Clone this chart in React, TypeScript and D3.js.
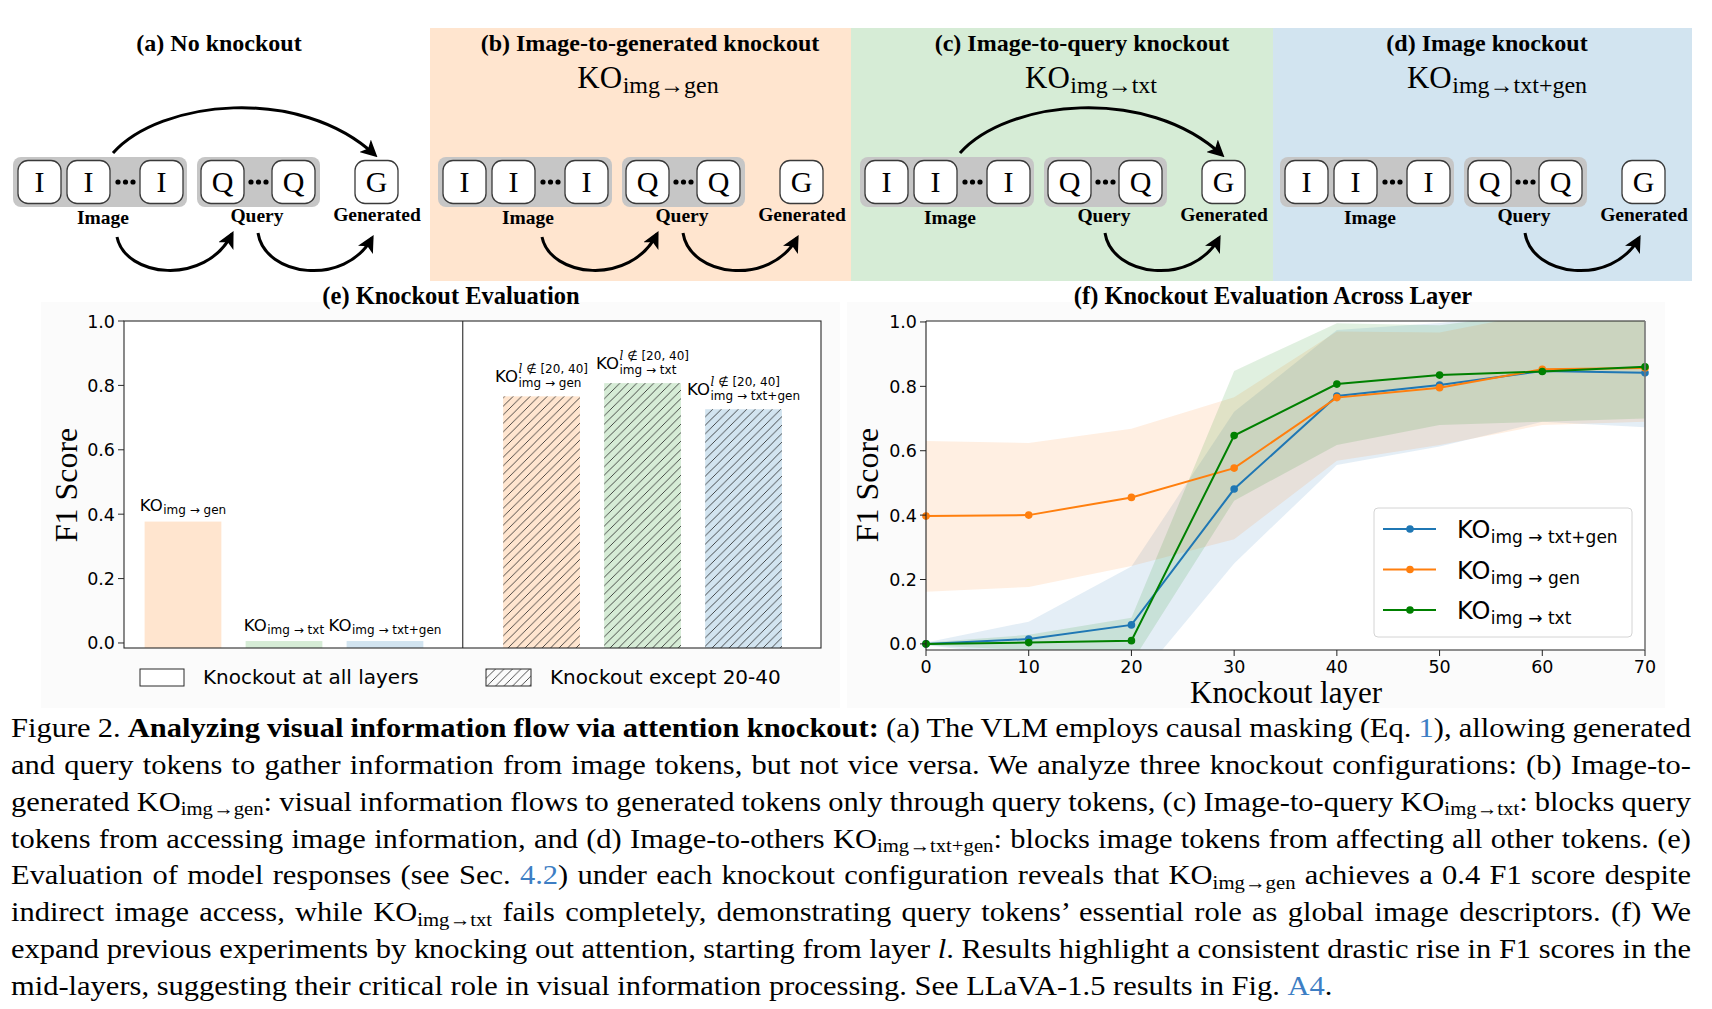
import React, { useEffect, useRef } from 'react';
import * as d3 from 'd3';

const W = 1712;
const H = 1009;
const SERIF = '"Liberation Serif", "Times New Roman", serif';
const SANS = '"DejaVu Sans", sans-serif';
const LINK = '#3d7ec4';

// ---------- top diagrams ----------
const panelTitles = ['(a) No knockout', '(b) Image-to-generated knockout', '(c) Image-to-query knockout', '(d) Image knockout'];
const panelKO = ['', 'img→gen', 'img→txt', 'img→txt+gen'];
const panelFlows = [
  { top: true, imgToQuery: true, queryToGen: true },
  { top: false, imgToQuery: true, queryToGen: true },
  { top: true, imgToQuery: false, queryToGen: true },
  { top: false, imgToQuery: false, queryToGen: true },
];
const tokenLabels = ['Image', 'Query', 'Generated'];
const panelFills = [null, '#ffe5cf', '#d6ecd6', '#d2e4f0'];

// ---------- (e) bar chart ----------
const eCategories = ['img → gen', 'img → txt', 'img → txt+gen'];
const eAllLayers = [0.377, 0.006, 0.006];
const eExcept2040 = [0.766, 0.807, 0.726];
const eSup = '∉ [20, 40]';
const eYTicks = [0, 0.2, 0.4, 0.6, 0.8, 1.0];
const eLegend = ['Knockout at all layers', 'Knockout except 20-40'];
const eFills = ['#ffe5cf', '#d6ecd6', '#d2e4f0'];

// ---------- (f) line chart ----------
const fLayers = [0, 10, 20, 30, 40, 50, 60, 70];
const fNames = ['img → txt+gen', 'img → gen', 'img → txt'];
const fMeanTxtGen = [0.0, 0.015, 0.059, 0.481, 0.770, 0.804, 0.848, 0.842];
const fMeanGen = [0.397, 0.400, 0.455, 0.546, 0.765, 0.796, 0.853, 0.857];
const fMeanTxt = [0.0, 0.004, 0.010, 0.647, 0.807, 0.835, 0.846, 0.861];
const fLowTxtGen = [-0.004, -0.04, -0.134, 0.25, 0.556, 0.613, 0.69, 0.673];
const fHighTxtGen = [0.004, 0.069, 0.24, 0.721, 0.975, 0.997, 1.03, 1.03];
const fLowGen = [0.162, 0.177, 0.242, 0.325, 0.569, 0.618, 0.68, 0.69];
const fHighGen = [0.63, 0.624, 0.668, 0.766, 0.97, 0.967, 1.03, 1.03];
const fLowTxt = [-0.004, -0.02, -0.059, 0.445, 0.618, 0.68, 0.69, 0.70];
const fHighTxt = [0.004, 0.028, 0.081, 0.848, 0.996, 0.99, 1.03, 1.03];
const fColors = ['#1f77b4', '#ff7f0e', '#008000'];
const fXTicks = [0, 10, 20, 30, 40, 50, 60, 70];
const fYTicks = [0, 0.2, 0.4, 0.6, 0.8, 1.0];

// ---------- caption ----------
type Seg = { t: string; b?: boolean; i?: boolean; sub?: boolean; link?: boolean };
const captionLines: Seg[][] = [
  [{ t: 'Figure 2. ' }, { t: 'Analyzing visual information flow via attention knockout:', b: true }, { t: ' (a) The VLM employs causal masking (Eq. ' }, { t: '1', link: true }, { t: '), allowing generated' }],
  [{ t: 'and query tokens to gather information from image tokens, but not vice versa. We analyze three knockout configurations: (b) Image-to-' }],
  [{ t: 'generated KO' }, { t: 'img→gen', sub: true }, { t: ': visual information flows to generated tokens only through query tokens, (c) Image-to-query KO' }, { t: 'img→txt', sub: true }, { t: ': blocks query' }],
  [{ t: 'tokens from accessing image information, and (d) Image-to-others KO' }, { t: 'img→txt+gen', sub: true }, { t: ': blocks image tokens from affecting all other tokens. (e)' }],
  [{ t: 'Evaluation of model responses (see Sec. ' }, { t: '4.2', link: true }, { t: ') under each knockout configuration reveals that KO' }, { t: 'img→gen', sub: true }, { t: ' achieves a 0.4 F1 score despite' }],
  [{ t: 'indirect image access, while KO' }, { t: 'img→txt', sub: true }, { t: ' fails completely, demonstrating query tokens’ essential role as global image descriptors. (f) We' }],
  [{ t: 'expand previous experiments by knocking out attention, starting from layer ' }, { t: 'l', i: true }, { t: '. Results highlight a consistent drastic rise in F1 scores in the' }],
  [{ t: 'mid-layers, suggesting their critical role in visual information processing. See LLaVA-1.5 results in Fig. ' }, { t: 'A4', link: true }, { t: '.' }],
];

type KOOpts = {
  font: string; size: number; subFont?: string; subSize: number; sub: string; subDy: number;
  sup?: string; supSize?: number; supDy?: number;
};

function drawKO(parent: any, x: number, y: number, anchor: 'middle' | 'start', o: KOOpts) {
  const g = parent.append('g');
  const k = g.append('text').attr('font-family', o.font).attr('font-size', o.size).attr('fill', '#000').text('KO');
  const kw = (k.node() as SVGTextElement).getComputedTextLength();
  const s = g.append('text').attr('x', kw + 0.5).attr('y', o.subDy)
    .attr('font-family', o.subFont || o.font).attr('font-size', o.subSize).attr('fill', '#000').text(o.sub);
  let w = (s.node() as SVGTextElement).getComputedTextLength();
  if (o.sup) {
    const p = g.append('text').attr('x', kw + 0.5).attr('y', o.supDy)
      .attr('font-family', o.subFont || o.font).attr('font-size', o.supSize).attr('fill', '#000');
    p.append('tspan').attr('font-family', '"DejaVu Serif", serif').attr('font-style', 'italic').text('l');
    p.append('tspan').text(' ' + o.sup);
    w = Math.max(w, (p.node() as SVGTextElement).getComputedTextLength());
  }
  const total = kw + 0.5 + w;
  const x0 = anchor === 'middle' ? x - total / 2 : x;
  g.attr('transform', `translate(${x0},${y})`);
}

function draw(node: SVGSVGElement) {
  const svg = d3.select(node);
  svg.selectAll('*').remove();
  svg.append('rect').attr('width', W).attr('height', H).attr('fill', '#fff');
  const defs = svg.append('defs');
  defs.append('marker').attr('id', 'ah').attr('viewBox', '0 0 10 10').attr('refX', 8).attr('refY', 5)
    .attr('markerWidth', 17).attr('markerHeight', 17).attr('markerUnits', 'userSpaceOnUse').attr('orient', 'auto')
    .append('path').attr('d', 'M0,0 L10,5 L0,10 L2.5,5 Z').attr('fill', '#000');
  const pat = defs.append('pattern').attr('id', 'hatch').attr('patternUnits', 'userSpaceOnUse')
    .attr('width', 8.5).attr('height', 8.5);
  pat.append('path').attr('d', 'M-1,1 L1,-1 M0,8.5 L8.5,0 M7.5,9.5 L9.5,7.5')
    .attr('stroke', '#222').attr('stroke-width', 0.8);
  defs.append('clipPath').attr('id', 'fclip').append('rect').attr('x', 926).attr('y', 321).attr('width', 719).attr('height', 329);

  // ---------------- top panels ----------------
  const bgX = [[0, 430], [430, 851], [851, 1273], [1273, 1692]];
  const offs = [0, 425, 847, 1267];
  const titleCx = [219, 650, 1082, 1487];
  const koCx = [0, 648, 1091, 1497];

  panelTitles.forEach((_, p) => {
    if (panelFills[p]) {
      svg.append('rect').attr('x', bgX[p][0]).attr('y', 28).attr('width', bgX[p][1] - bgX[p][0]).attr('height', 253)
        .attr('fill', panelFills[p] as string);
    }
  });

  panelTitles.forEach((title, p) => {
    const g = svg.append('g').attr('transform', `translate(${offs[p]},0)`);
    svg.append('text').attr('x', titleCx[p]).attr('y', 51).attr('text-anchor', 'middle')
      .attr('font-family', SERIF).attr('font-weight', 'bold').attr('font-size', 24).text(title);
    if (panelKO[p]) {
      drawKO(svg, koCx[p], 88, 'middle', {
        font: SERIF, size: 31, subSize: 24, sub: panelKO[p], subDy: 5,
      });
    }
    g.append('rect').attr('x', 13).attr('y', 157).attr('width', 174).attr('height', 50).attr('rx', 8).attr('fill', '#c6c6c6');
    g.append('rect').attr('x', 197).attr('y', 157).attr('width', 123).attr('height', 50).attr('rx', 8).attr('fill', '#c6c6c6');
    const toks = [
      { x: 18, l: 'I' }, { x: 67, l: 'I' }, { x: 140, l: 'I' },
      { x: 201, l: 'Q' }, { x: 272, l: 'Q' }, { x: 355, l: 'G' },
    ];
    toks.forEach(t => {
      g.append('rect').attr('x', t.x).attr('y', 160.5).attr('width', 43).attr('height', 43).attr('rx', 10)
        .attr('fill', '#fff').attr('stroke', '#3a3a3a').attr('stroke-width', 1.3);
      g.append('text').attr('x', t.x + 21.5).attr('y', 191.5).attr('text-anchor', 'middle')
        .attr('font-family', SERIF).attr('font-size', 30).text(t.l);
    });
    [[118, 125.5, 133], [251, 258.5, 266]].forEach(ds => ds.forEach(cx => {
      g.append('circle').attr('cx', cx).attr('cy', 182).attr('r', 2.6).attr('fill', '#000');
    }));
    const lblX = [103, 257, 377];
    const lblY = [224, 222, 221];
    tokenLabels.forEach((l, i) => {
      g.append('text').attr('x', lblX[i]).attr('y', lblY[i]).attr('text-anchor', 'middle')
        .attr('font-family', SERIF).attr('font-weight', 'bold').attr('font-size', 19.5).text(l);
    });
    const arc = (d: string) => g.append('path').attr('d', d).attr('fill', 'none').attr('stroke', '#000')
      .attr('stroke-width', 3).attr('marker-end', 'url(#ah)');
    const f = panelFlows[p];
    if (f.top) arc('M113,153 C160,100 300,85 375,155');
    if (f.imgToQuery) arc('M117,237 C125,277 205,287 232,234');
    if (f.queryToGen) arc('M258,233 C265,277 345,287 372,238');
  });

  // ---------------- (e) ----------------
  svg.append('rect').attr('x', 41).attr('y', 302).attr('width', 799).attr('height', 406).attr('fill', '#fbfbfb');
  svg.append('rect').attr('x', 847).attr('y', 302).attr('width', 818).attr('height', 406).attr('fill', '#fbfbfb');

  svg.append('text').attr('x', 451).attr('y', 304).attr('text-anchor', 'middle')
    .attr('font-family', SERIF).attr('font-weight', 'bold').attr('font-size', 24.5).text('(e) Knockout Evaluation');
  svg.append('text').attr('x', 1273).attr('y', 304).attr('text-anchor', 'middle')
    .attr('font-family', SERIF).attr('font-weight', 'bold').attr('font-size', 24.5).text('(f) Knockout Evaluation Across Layer');

  const eX = d3.scaleLinear().domain([-0.584, 6.317]).range([124, 821]);
  const eY = d3.scaleLinear().domain([-0.0156, 1.0]).range([648, 321]);
  svg.append('rect').attr('x', 124).attr('y', 321).attr('width', 697).attr('height', 327).attr('fill', '#fff');
  const allPos = [0, 1, 2];
  const exPos = [3.55, 4.55, 5.55];
  const bw = 0.76;
  const barW = eX(bw) - eX(0);
  eAllLayers.forEach((v, i) => {
    svg.append('rect').attr('x', eX(allPos[i]) - barW / 2).attr('y', eY(v)).attr('width', barW)
      .attr('height', eY(-0.0156) - eY(v)).attr('fill', eFills[i]);
  });
  eExcept2040.forEach((v, i) => {
    const x = eX(exPos[i]) - barW / 2;
    svg.append('rect').attr('x', x).attr('y', eY(v)).attr('width', barW)
      .attr('height', eY(-0.0156) - eY(v)).attr('fill', eFills[i]);
    svg.append('rect').attr('x', x).attr('y', eY(v)).attr('width', barW)
      .attr('height', eY(-0.0156) - eY(v)).attr('fill', 'url(#hatch)');
  });
  svg.append('rect').attr('x', 124).attr('y', 321).attr('width', 697).attr('height', 327)
    .attr('fill', 'none').attr('stroke', '#2a2a2a').attr('stroke-width', 1.1);
  svg.append('line').attr('x1', eX(2.77)).attr('x2', eX(2.77)).attr('y1', 321).attr('y2', 648)
    .attr('stroke', '#2a2a2a').attr('stroke-width', 1.1);
  eYTicks.forEach(t => {
    svg.append('line').attr('x1', 118).attr('x2', 124).attr('y1', eY(t)).attr('y2', eY(t)).attr('stroke', '#2a2a2a');
    svg.append('text').attr('x', 115).attr('y', eY(t) + 6.5).attr('text-anchor', 'end')
      .attr('font-family', SANS).attr('font-size', 17.5).text(t.toFixed(1));
  });
  svg.append('text').attr('transform', `translate(77,485) rotate(-90)`).attr('text-anchor', 'middle')
    .attr('font-family', SERIF).attr('font-size', 32).text('F1 Score');
  eCategories.forEach((c, i) => {
    drawKO(svg, eX(allPos[i]), eY(eAllLayers[i]) - 10.5, 'middle', {
      font: SANS, size: 16.5, subSize: 12, sub: c, subDy: 3,
    });
    drawKO(svg, eX(exPos[i]), eY(eExcept2040[i]) - 14.5, 'middle', {
      font: SANS, size: 16.5, subSize: 12, sub: c, subDy: 5, sup: eSup, supSize: 12, supDy: -8.5,
    });
  });
  svg.append('rect').attr('x', 140).attr('y', 669).attr('width', 44).attr('height', 17)
    .attr('fill', '#fff').attr('stroke', '#2a2a2a').attr('stroke-width', 1);
  svg.append('text').attr('x', 203).attr('y', 684).attr('font-family', SANS).attr('font-size', 20).text(eLegend[0]);
  svg.append('rect').attr('x', 486).attr('y', 669).attr('width', 45).attr('height', 17)
    .attr('fill', 'url(#hatch)').attr('stroke', '#2a2a2a').attr('stroke-width', 1);
  svg.append('text').attr('x', 550).attr('y', 684).attr('font-family', SANS).attr('font-size', 20).text(eLegend[1]);

  // ---------------- (f) ----------------
  const fX = d3.scaleLinear().domain([0, 70]).range([926, 1645]);
  const fY = d3.scaleLinear().domain([-0.019, 1.003]).range([650, 321]);
  svg.append('rect').attr('x', 926).attr('y', 321).attr('width', 719).attr('height', 329).attr('fill', '#fff');
  const means = [fMeanTxtGen, fMeanGen, fMeanTxt];
  const lows = [fLowTxtGen, fLowGen, fLowTxt];
  const highs = [fHighTxtGen, fHighGen, fHighTxt];
  const clipG = svg.append('g').attr('clip-path', 'url(#fclip)');
  means.forEach((_, s) => {
    const a = d3.area<number>()
      .x((_, i) => fX(fLayers[i]))
      .y0((_, i) => fY(lows[s][i]))
      .y1((_, i) => fY(highs[s][i]));
    clipG.append('path').attr('d', a(fLayers) as string).attr('fill', fColors[s]).attr('fill-opacity', 0.12);
  });
  const line = d3.line<number>().x((_, i) => fX(fLayers[i])).y(d => fY(d));
  means.forEach((m, s) => {
    svg.append('path').attr('d', line(m) as string).attr('fill', 'none').attr('stroke', fColors[s]).attr('stroke-width', 2);
    m.forEach((v, i) => {
      svg.append('circle').attr('cx', fX(fLayers[i])).attr('cy', fY(v)).attr('r', 3.8).attr('fill', fColors[s]);
    });
  });
  svg.append('line').attr('x1', 926).attr('x2', 1645).attr('y1', 321).attr('y2', 321).attr('stroke', '#222').attr('stroke-width', 1.1);
  svg.append('line').attr('x1', 926).attr('x2', 1645).attr('y1', 650).attr('y2', 650).attr('stroke', '#222').attr('stroke-width', 1.1);
  svg.append('line').attr('x1', 926).attr('x2', 926).attr('y1', 321).attr('y2', 650).attr('stroke', '#222').attr('stroke-width', 1.1);
  svg.append('line').attr('x1', 1645).attr('x2', 1645).attr('y1', 321).attr('y2', 650).attr('stroke', '#777').attr('stroke-width', 1.6);
  fXTicks.forEach(t => {
    svg.append('line').attr('x1', fX(t)).attr('x2', fX(t)).attr('y1', 650).attr('y2', 656).attr('stroke', '#222');
    svg.append('text').attr('x', fX(t)).attr('y', 673).attr('text-anchor', 'middle')
      .attr('font-family', SANS).attr('font-size', 17.5).text(String(t));
  });
  fYTicks.forEach(t => {
    svg.append('line').attr('x1', 920).attr('x2', 926).attr('y1', fY(t)).attr('y2', fY(t)).attr('stroke', '#222');
    svg.append('text').attr('x', 917).attr('y', fY(t) + 6.5).attr('text-anchor', 'end')
      .attr('font-family', SANS).attr('font-size', 17.5).text(t.toFixed(1));
  });
  svg.append('text').attr('transform', `translate(878,485) rotate(-90)`).attr('text-anchor', 'middle')
    .attr('font-family', SERIF).attr('font-size', 32).text('F1 Score');
  svg.append('text').attr('x', 1286).attr('y', 703).attr('text-anchor', 'middle')
    .attr('font-family', SERIF).attr('font-size', 31).text('Knockout layer');
  svg.append('rect').attr('x', 1374).attr('y', 508).attr('width', 258).attr('height', 129).attr('rx', 4)
    .attr('fill', '#fff').attr('fill-opacity', 0.85).attr('stroke', '#d4d4d4').attr('stroke-width', 1);
  fNames.forEach((n, s) => {
    const ly = 529 + s * 40.5;
    svg.append('line').attr('x1', 1383).attr('x2', 1436).attr('y1', ly).attr('y2', ly).attr('stroke', fColors[s]).attr('stroke-width', 2);
    svg.append('circle').attr('cx', 1410).attr('cy', ly).attr('r', 3.8).attr('fill', fColors[s]);
    drawKO(svg, 1457, ly + 9, 'start', { font: SANS, size: 24, subSize: 17, sub: n, subDy: 5 });
  });

  // ---------------- caption ----------------
  const fs = 27;
  const probe = svg.append('text').attr('font-family', SERIF).attr('font-size', fs).style('white-space', 'pre')
    .text(captionLines[7].map(s => s.t).join(''));
  const plen = (probe.node() as SVGTextElement).getComputedTextLength();
  probe.remove();
  const sx = Math.max(0.9, Math.min(1.3, 1320 / plen));
  const capX0 = 11;
  const capX1 = 1691;
  const targetW = (capX1 - capX0) / sx;
  captionLines.forEach((segs, i) => {
    const y = 737 + i * 36.86;
    const holder = svg.append('g').attr('transform', `translate(${capX0},${y}) scale(${sx},1)`);
    const t = holder.append('text').attr('x', 0).attr('y', 0).attr('font-family', SERIF)
      .attr('font-size', fs).attr('fill', '#000').style('white-space', 'pre');
    let cur = 0;
    segs.forEach(s => {
      const target = s.sub ? fs * 0.16 : 0;
      const ts = t.append('tspan').attr('dy', target - cur).text(s.t);
      cur = target;
      if (s.b) ts.attr('font-weight', 'bold');
      if (s.i) ts.attr('font-style', 'italic');
      if (s.link) ts.attr('fill', LINK);
      if (s.sub) ts.attr('font-size', fs * 0.68);
    });
    if (i < captionLines.length - 1) {
      const len = (t.node() as SVGTextElement).getComputedTextLength();
      const nsp = segs.map(s => s.t).join('').split(' ').length - 1;
      t.attr('word-spacing', (targetW - len) / nsp);
    }
  });
}

export default function App() {
  const ref = useRef<SVGSVGElement>(null);
  useEffect(() => {
    if (ref.current) draw(ref.current);
  }, []);
  return (
    <svg ref={ref} width={W} height={H}
      style={{ position: 'absolute', left: 0, top: 0, display: 'block', background: '#fff' }} />
  );
}
